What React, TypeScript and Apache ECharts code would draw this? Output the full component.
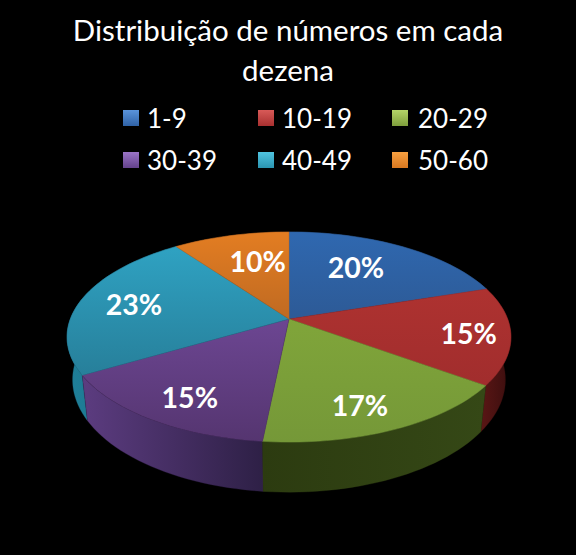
import React, { useEffect, useRef } from "react";
import * as echarts from "echarts";

const title = "Distribuição de números em cada\ndezena";
const categories = ["1-9", "10-19", "20-29", "30-39", "40-49", "50-60"];
const values = [20, 15, 16.6, 15, 23.4, 10];

// styles: [top light, top dark, wall from, wall to, legend light, legend dark]
const palette = [
  ["#2f68b0", "#2d5a96", "#1c3a60", "#1c3a60", "#5a94dc", "#2f62a6"],
  ["#ae3230", "#a12d2d", "#5a1615", "#3a0e0e", "#d85a58", "#a83030"],
  ["#80a53a", "#759838", "#2c3b10", "#354816", "#b4d468", "#7f9f3c"],
  ["#6c4692", "#553570", "#5c3c80", "#2e2046", "#9a74c6", "#64428c"],
  ["#2fa2c2", "#277f9a", "#1f7f99", "#1a6a80", "#50c4e0", "#2a94b0"],
  ["#e37d22", "#bf6a22", "#8a4a10", "#6a380c", "#f8a040", "#d87820"],
];
const labelNudge = [[-13, -1], [30, 3], [3, 15], [-10, 13], [-13, -1], [10, 1]];

const CX = 289, CY = 319, A = 218.7, B = 102, K = 0.1714, DEPTH = 41.5, SHRINK = 0.975;

function project(t: number, r: number) {
  const u = r * Math.sin(t), v = -r * Math.cos(t), w = 1 - K * v;
  return { x: CX + (A * u) / w, y: CY + (B * v) / w, w };
}
function projectLow(t: number) {
  const p = project(t, 1);
  return [CX + (p.x - CX) * SHRINK, p.y + DEPTH / p.w];
}
const total = values.reduce((a, b) => a + b, 0);
const rows: number[][] = [];
{
  let acc = 0;
  values.forEach((v) => {
    rows.push([v, acc, acc + v]);
    acc += v;
  });
}
const grad = (x2: number, y2: number, a: string, b: string) =>
  new echarts.graphic.LinearGradient(0, 0, x2, y2, [
    { offset: 0, color: a },
    { offset: 1, color: b },
  ]);

function renderSlice(i: number) {
  return (_params: any, api: any) => {
    const value = api.value(0);
    const t0 = (api.value(1) / total) * Math.PI * 2;
    const t1 = (api.value(2) / total) * Math.PI * 2;
    const n = Math.max(8, Math.ceil(((t1 - t0) / Math.PI) * 90));
    const top: number[][] = [], low: number[][] = [];
    for (let k = 0; k <= n; k++) {
      const t = t0 + ((t1 - t0) * k) / n;
      const p = project(t, 1);
      top.push([p.x, p.y]);
      low.push(projectLow(t));
    }
    const mid = (t0 + t1) / 2;
    const lab = project(mid, 0.68);
    const c = palette[i];
    return {
      type: "group",
      children: [
        {
          type: "polygon",
          z2: 10 + Math.round(-Math.cos(mid) * 10 + 10),
          shape: { points: [...top, ...low.slice().reverse()] },
          style: { fill: grad(1, 0, c[2], c[3]), stroke: c[3], lineWidth: 0.3 },
        },
        {
          type: "polygon",
          z2: 100,
          shape: { points: [[CX, CY], ...top] },
          style: { fill: grad(0, 1, c[0], c[1]), stroke: c[1], lineWidth: 0.5 },
        },
        {
          type: "text",
          z2: 200,
          x: lab.x + labelNudge[i][0],
          y: lab.y + labelNudge[i][1],
          style: {
            text: `${Math.round((value / total) * 100)}%`,
            fill: "#ffffff",
            font: 'bold 28.5px Lato, "Open Sans", sans-serif',
            align: "center",
            verticalAlign: "middle",
          },
        },
      ],
    };
  };
}

const legendX = [123, 258, 392];
const legendY = [105, 147];

export default function App() {
  const ref = useRef<HTMLDivElement>(null);
  useEffect(() => {
    document.body.style.margin = "0";
    document.body.style.background = "#000";
    const chart = echarts.init(ref.current!, undefined, { renderer: "svg" });
    chart.setOption({
      animation: false,
      backgroundColor: "#000000",
      title: {
        text: title,
        left: 283,
        top: 4,
        textAlign: "center",
        textStyle: {
          color: "#ffffff",
          fontFamily: 'Lato, "Open Sans", sans-serif',
          fontWeight: "normal",
          fontSize: 29.5,
          lineHeight: 40,
        },
      },
      legend: categories.map((name, i) => ({
        left: legendX[i % 3],
        top: legendY[Math.floor(i / 3)],
        orient: "horizontal",
        selectedMode: false,
        icon: "rect",
        itemWidth: 16,
        itemHeight: 16,
        itemGap: 0,
        padding: 0,
        textStyle: {
          color: "#ffffff",
          fontFamily: 'Lato, "Open Sans", sans-serif',
          fontSize: 26,
          padding: [0, 0, 0, i % 3 === 2 ? 5 : 3],
        },
        data: [{ name, itemStyle: { color: grad(0, 1, palette[i][4], palette[i][5]) } }],
      })),
      series: categories.map((name, i) => ({
        type: "custom",
        name,
        coordinateSystem: "none",
        silent: true,
        itemStyle: { color: palette[i][1] },
        data: [rows[i]],
        renderItem: renderSlice(i),
      })),
    });
    return () => chart.dispose();
  }, []);
  return <div ref={ref} style={{ width: 576, height: 555 }} />;
}
